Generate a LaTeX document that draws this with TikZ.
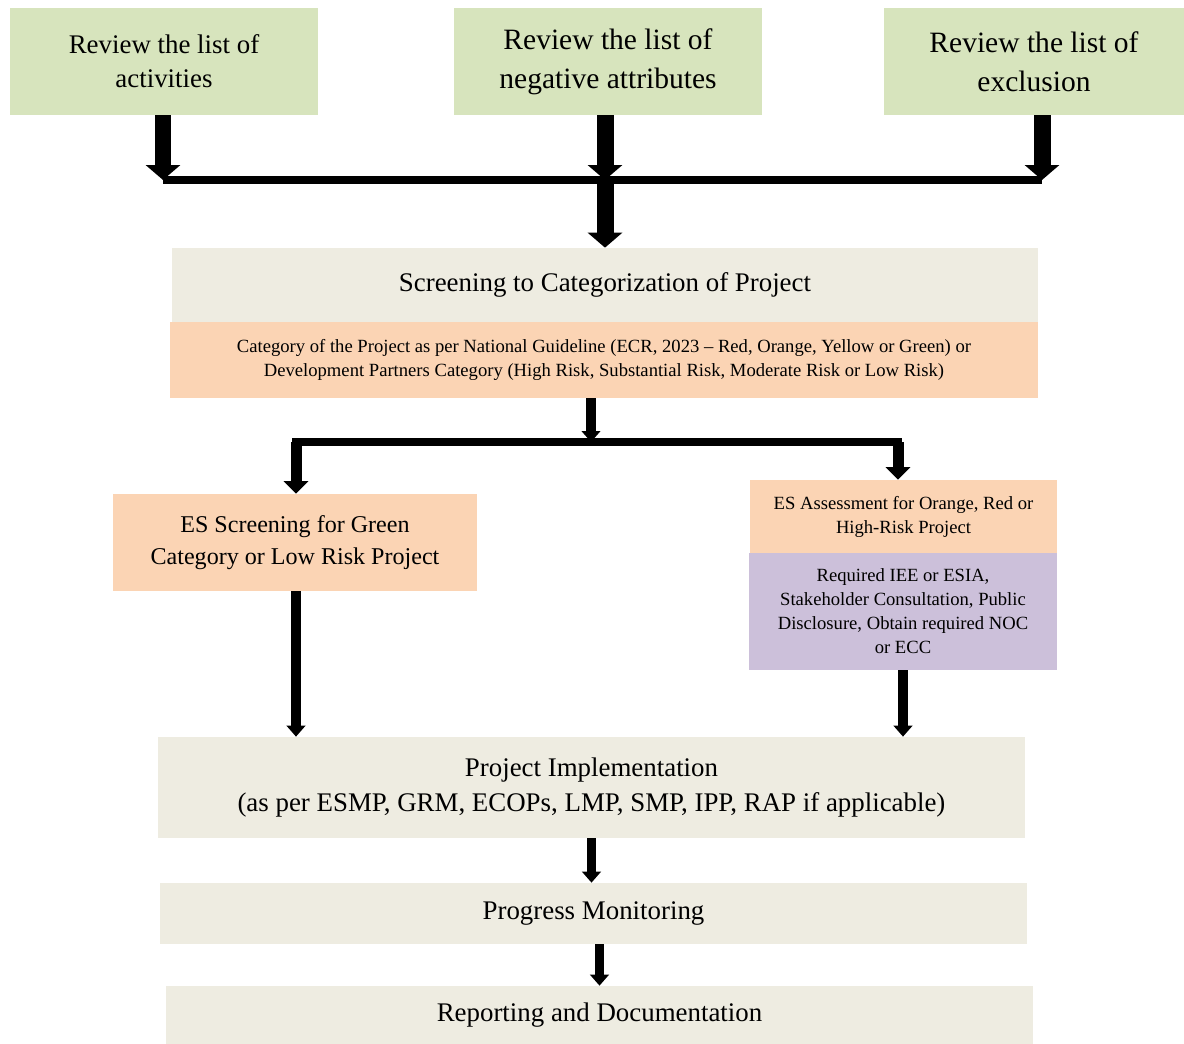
\documentclass[tikz,border=0pt]{standalone}
\usepackage{fontspec}
\setmainfont{Liberation Serif}
\usetikzlibrary{arrows.meta}

\definecolor{revgreen}{HTML}{D7E4BD}
\definecolor{stepbeige}{HTML}{EEECE1}
\definecolor{catorange}{HTML}{FBD4B4}
\definecolor{reqpurple}{HTML}{CCC0DA}

\tikzset{
  box/.style={fill=#1, align=center, inner sep=0pt},
  bigtext/.style={font=\fontsize{15.3}{19.4}\selectfont},
  toptext/.style={font=\fontsize{16.8}{22.2}\selectfont},
  midtext/.style={font=\fontsize{13.7}{18.2}\selectfont},
  smalltext/.style={font=\fontsize{10.6}{13.7}\selectfont},
  bigarrow/.style={line width=0.34cm, -{Triangle[width=0.68cm,length=0.30cm]}},
  midarrow/.style={line width=0.22cm, -{Triangle[width=0.48cm,length=0.25cm]}},
  smallarrow/.style={line width=0.19cm, -{Triangle[width=0.37cm,length=0.22cm]}},
  bar/.style={line width=0.15cm},
}

\begin{document}
\begin{tikzpicture}[x=0.02cm,y=-0.02cm]
\useasboundingbox (0,0) rectangle (1184,1044);

% three review boxes
\node[box=revgreen, bigtext, minimum width=6.16cm, minimum height=2.14cm] (act) at (164,61.5) {Review the list of\\activities};
\node[box=revgreen, toptext, minimum width=6.16cm, minimum height=2.14cm] (neg) at (608,61.5) {Review the list of\\negative attributes};
\node[box=revgreen, toptext, minimum width=6.00cm, minimum height=2.14cm] (excl) at (1034,61.5) {Review the list of\\exclusion};

\coordinate (tl) at (163,180);
\coordinate (tm) at (605,180);
\coordinate (tr) at (1042,180);

% screening
\node[box=stepbeige, bigtext, minimum width=17.32cm, minimum height=1.48cm] (screen) at (605,285) {Screening to Categorization of Project};
\node[box=catorange, smalltext, minimum width=17.36cm, minimum height=1.52cm] (cat) at (604,360) {Category of the Project as per National Guideline (ECR, 2023 -- Red, Orange, Yellow or Green) or\\Development Partners Category (High Risk, Substantial Risk, Moderate Risk or Low Risk)};

\coordinate (ml) at (296,442);
\coordinate (mm) at (591,442);
\coordinate (mr) at (898,442);

% two branches
\node[box=catorange, midtext, minimum width=7.28cm, minimum height=1.94cm] (green) at (295,542.5) {ES Screening for Green\\Category or Low Risk Project};
\node[box=catorange, smalltext, minimum width=6.14cm, minimum height=1.46cm] (assess) at (903.5,516.5) {ES Assessment for Orange, Red or\\High-Risk Project};
\node[box=reqpurple, smalltext, minimum width=6.16cm, minimum height=2.34cm] (req) at (903,611.5) {Required IEE or ESIA,\\Stakeholder Consultation, Public\\Disclosure, Obtain required NOC\\or ECC};

% implementation and after
\node[box=stepbeige, bigtext, minimum width=17.34cm, minimum height=2.02cm] (impl) at (591.5,787.5) {Project Implementation\\(as per ESMP, GRM, ECOPs, LMP, SMP, IPP, RAP if applicable)};
\node[box=stepbeige, bigtext, minimum width=17.34cm, minimum height=1.22cm] (mon) at (593.5,913.5) {Progress Monitoring};
\node[box=stepbeige, bigtext, minimum width=17.34cm, minimum height=1.16cm] (rep) at (599.5,1015) {Reporting and Documentation};

% connectors
\draw[bar] (tl) -- (tr);
\draw[bigarrow] (act.south -| tl) -- (tl);
\draw[bigarrow] (neg.south -| tm) -- (tm);
\draw[bigarrow] (excl.south -| tr) -- (tr);
\draw[bigarrow] (tm) -- (screen.north -| tm);

\draw[smallarrow] (cat.south -| mm) -- (mm);
\draw[bar, line cap=rect] (ml) -- (mr);
\draw[midarrow] (ml) -- (green.north -| ml);
\draw[midarrow] (mr) -- (assess.north -| mr);

\draw[smallarrow] (green.south -| ml) -- (impl.north -| ml);
\draw[smallarrow] (req.south) -- (req.south |- impl.north);
\draw[smallarrow] (impl.south) -- (impl.south |- mon.north);
\draw[smallarrow] (rep.north |- mon.south) -- (rep.north);
\end{tikzpicture}
\end{document}
